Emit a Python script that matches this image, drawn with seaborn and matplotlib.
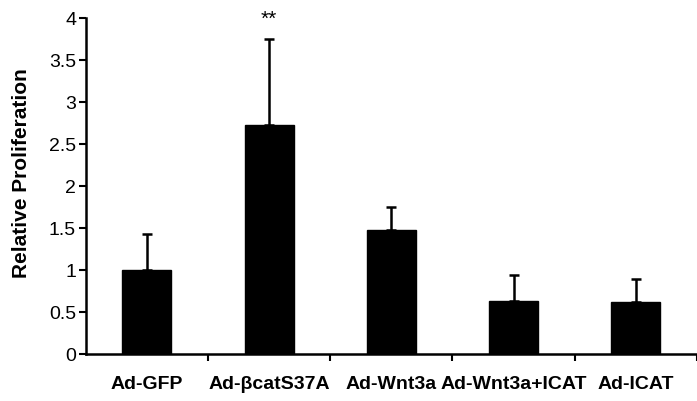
import numpy as np
import pandas as pd
import matplotlib
matplotlib.use("Agg")
import matplotlib.pyplot as plt
import seaborn as sns

groups = ["Ad-GFP", "Ad-\u03b2catS37A", "Ad-Wnt3a", "Ad-Wnt3a+ICAT", "Ad-ICAT"]
means = [1.0, 2.72, 1.47, 0.63, 0.62]
errors = [0.43, 1.03, 0.28, 0.31, 0.27]
stars = ["", "**", "", "", ""]

sns.set_style("ticks")
plt.rcParams["font.family"] = ["Liberation Sans", "DejaVu Sans"]
plt.rcParams["text.color"] = "black"
plt.rcParams["xtick.color"] = "black"
plt.rcParams["ytick.color"] = "black"
plt.rcParams["axes.edgecolor"] = "black"
plt.rcParams["axes.labelcolor"] = "black"

data = pd.DataFrame({"group": groups, "mean": means})

fig = plt.figure(figsize=(6.97, 4.02), dpi=100)
ax = fig.add_axes([0.123, 0.117, 0.877, 0.836])

sns.barplot(data=data, x="group", y="mean", color="black", edgecolor="black",
            width=0.4, saturation=1, ax=ax)
ax.errorbar(np.arange(len(groups)), means, yerr=[np.zeros(len(groups)), errors],
            fmt="none", ecolor="black", elinewidth=1.8, capsize=3.5, capthick=1.8)

for i, s in enumerate(stars):
    if s:
        ax.text(i, means[i] + errors[i] + 0.13, s, ha="center", va="bottom",
                fontsize=15)

ax.set_ylim(0, 4)
ax.set_xlim(-0.5, 4.5)
ax.set_yticks(np.arange(0, 4.01, 0.5))
ax.set_yticklabels(["0", "0.5", "1", "1.5", "2", "2.5", "3", "3.5", "4"])
ax.set_xticks(np.arange(len(groups)) + 0.5)
ax.set_xticklabels([""] * len(groups))
ax.set_xticks(np.arange(len(groups)), minor=True)
ax.set_xticklabels(groups, minor=True, fontweight="bold", fontsize=14)
ax.tick_params(axis="x", which="minor", length=0, pad=15)
ax.tick_params(axis="x", which="major", length=5, width=1.5, direction="out")
ax.tick_params(axis="y", length=5, width=1.5, direction="out", labelsize=14, pad=2)
ax.set_xlabel("")
ax.set_ylabel("Relative Proliferation", fontweight="bold", fontsize=15)
ax.yaxis.set_label_coords(-0.09, 0.54)

for side in ["top", "right"]:
    ax.spines[side].set_visible(False)
for side in ["left", "bottom"]:
    ax.spines[side].set_linewidth(1.8)

fig.savefig("out.png", dpi=100)
